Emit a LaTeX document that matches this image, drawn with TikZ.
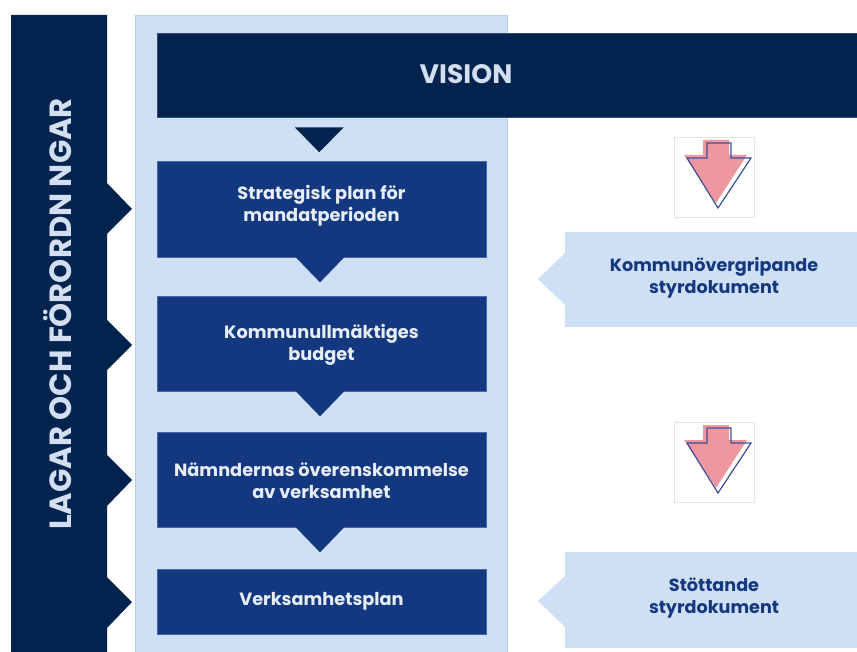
\documentclass[tikz,border=0pt]{standalone}
\usepackage{fontspec}
\setmainfont{Poppins}
\usetikzlibrary{calc}
\definecolor{navy}{HTML}{03234F}
\definecolor{midblue}{HTML}{14387F}
\definecolor{midedge}{HTML}{4A68A8}
\definecolor{lightpanel}{HTML}{CFE0F4}
\definecolor{paneledge}{HTML}{BBCDE6}
\definecolor{txtlight}{HTML}{E6EDF7}
\definecolor{txtbar}{HTML}{D3DFF0}
\definecolor{pinkarrow}{HTML}{EF97A1}
\definecolor{outlineblue}{HTML}{3B4F99}
\definecolor{iconedge}{HTML}{E2E2E2}
\tikzset{
  stepbox/.style={draw=midedge, line width=0.5pt, fill=midblue, minimum width={329*0.75pt}, inner sep=0pt},
  boxtext/.style={text=txtlight, align=center, font=\fontsize{13.3}{16.5}\selectfont\bfseries},
  sidetext/.style={text=midblue, align=center, font=\fontsize{13.2}{16.5}\selectfont\bfseries},
  pointer/.style={fill=midblue},
  iconbox/.style={draw=iconedge, line width=0.5pt, fill=white, minimum width={80*0.75pt}, minimum height={80*0.75pt}, inner sep=0pt},
  downarrow/.pic={
    \fill[pinkarrow] (-11,-37) -- (15,-37) -- (15,-22) -- (33,-22) -- (2,26) -- (-30,-22) -- (-11,-22) -- cycle;
    \draw[outlineblue, line width=0.9pt, line join=miter] (-7,-34) -- (17,-34) -- (17,-19) -- (37,-19) -- (4,31) -- (-27,-19) -- (-7,-19) -- cycle;
  }
}
\begin{document}
\begin{tikzpicture}[x=0.75pt,y=-0.75pt]
\useasboundingbox (0,0) rectangle (857,652);
% light panel
\fill[lightpanel] (135,15) rectangle (507,652);
\draw[paneledge, line width=0.6pt] (135,652) -- (135,15) -- (507,15) -- (507,652);
% left bar with chevrons
\fill[navy] (11,15) -- (107,15) -- (107,183) -- (132,209) -- (107,234) -- (107,320) -- (132,345) -- (107,370)
  -- (107,455) -- (132,480) -- (107,506) -- (107,577) -- (132,602) -- (107,628) -- (107,652) -- (11,652) -- cycle;
\node[rotate=90, text=txtbar, font=\fontsize{23}{23}\selectfont\bfseries, inner sep=0pt] (lagar) at (58,314) {LAGAR OCH FÖRORDN NGAR};
% vision bar
\node[fill=navy, draw=navy!80!white, line width=0.4pt, minimum width={700*0.75pt}, minimum height={84*0.75pt}, inner sep=0pt] (vision) at (507,75) {};
\node[text=txtbar, font=\fontsize{20}{20}\selectfont\bfseries, inner sep=0pt] (visiontxt) at (466,74) {VISION};
\fill[navy] ($(vision.south west)+(138,10)$) coordinate (t0a) -- ++(49,0) coordinate (t0b) -- ++(-24.5,25) coordinate (t0c) -- cycle;
% steps
\node[stepbox, minimum height={96*0.75pt}] (b1) at (321.5,209) {};
\node[boxtext] (b1t) at (321.5,206) {Strategisk plan för\\mandatperioden};
\node[stepbox, minimum height={95*0.75pt}] (b2) at (321.5,343.5) {};
\node[boxtext] (b2t) at (321.5,345) {Kommunullmäktiges\\budget};
\node[stepbox, minimum height={95*0.75pt}] (b3) at (321.5,479.5) {};
\node[boxtext] (b3t) at (321.5,481) {Nämndernas överenskommelse\\av verksamhet};
\node[stepbox, minimum height={65*0.75pt}] (b4) at (321.5,601.5) {};
\node[boxtext] (b4t) at (321.5,601) {Verksamhetsplan};
% pointers between steps
\foreach \n in {b1,b2,b3}{
  \fill[pointer] ($(\n.south)+(-26,-0.3)$) -- ($(\n.south)+(23,-0.3)$) -- ($(\n.south)+(-1.5,25)$) -- cycle;
}
% right boxes
\fill[lightpanel] (565,232) -- (857,232) -- (857,327) -- (565,327) -- (565,305) -- (538,279) -- (565,253) -- cycle;
\node[sidetext] (r1) at (714,278) {Kommunövergripande\\styrdokument};
\fill[lightpanel] (565,552) -- (857,552) -- (857,648) -- (565,648) -- (565,627) -- (538,601) -- (565,576) -- cycle;
\node[sidetext] (r2) at (714,598) {Stöttande\\styrdokument};
% icons
\node[iconbox] (i1) at (714,177) {};
\pic at (i1.center) {downarrow};
\node[iconbox] (i2) at (714,462) {};
\pic at (i2.center) {downarrow};
\end{tikzpicture}
\end{document}
